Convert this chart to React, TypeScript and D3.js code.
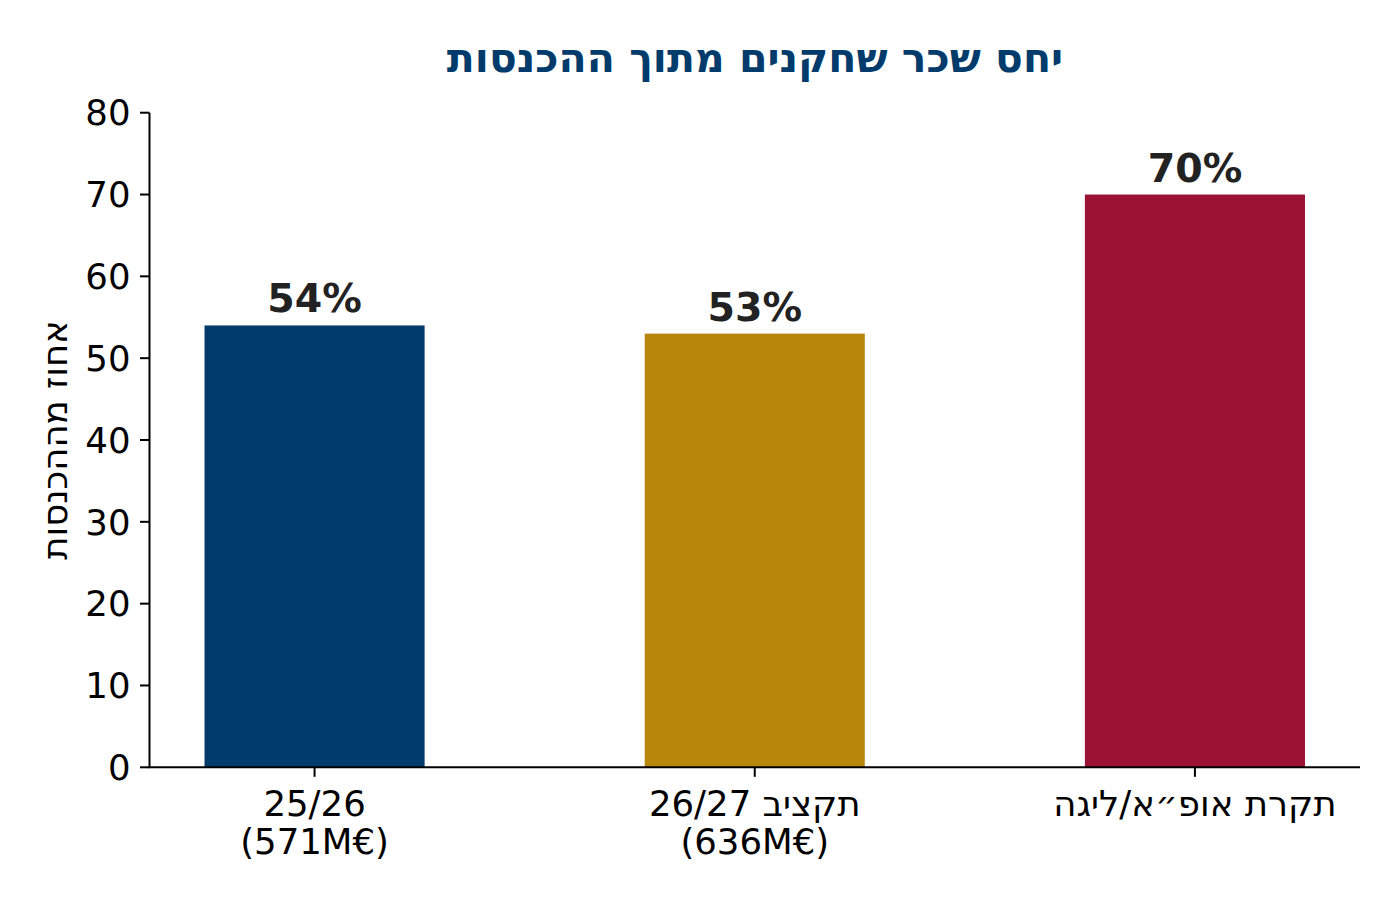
import React from 'react';
import * as d3 from 'd3';

// Données du graphique
const categories: string[][] = [
  ['25/26', '(571M€)'],
  ['תקציב 26/27', '(636M€)'],
  ['תקרת אופ״א/ליגה'],
];
const values: number[] = [54, 53, 70];
const barColors: string[] = ['#003B6B', '#B8860B', '#9B1235'];
const yTicks: number[] = [0, 10, 20, 30, 40, 50, 60, 70, 80];
const title = 'יחס שכר שחקנים מתוך ההכנסות';
const yLabel = 'אחוז מההכנסות';

const W = 1400;
const H = 900;
const FONT = '"DejaVu Sans", sans-serif';
const hebrew = /[\u0590-\u05FF]/;

const App: React.FC = () => {
  const plot = { left: 149.5, right: 1360, top: 112.7, bottom: 767.3 };

  const x = d3.scaleLinear().domain([-0.375, 2.375]).range([plot.left, plot.right]);
  const y = d3.scaleLinear().domain([0, 80]).range([plot.bottom, plot.top]);
  const barW = x(0.5) - x(0);

  return (
    <svg
      width={W}
      height={H}
      style={{ position: 'absolute', left: 0, top: 0, background: '#fff' }}
      fontFamily={FONT}
    >
      {/* Titre */}
      <text
        x={755}
        y={72}
        textAnchor="middle"
        direction="rtl"
        fontSize={41}
        fontWeight="bold"
        fill="#003B6B"
      >
        {title}
      </text>

      {/* Barres */}
      {values.map((v, i) => (
        <rect
          key={i}
          x={x(i) - barW / 2}
          y={y(v)}
          width={barW}
          height={y(0) - y(v)}
          fill={barColors[i]}
        />
      ))}

      {/* Étiquettes des valeurs */}
      {values.map((v, i) => (
        <text
          key={'l' + i}
          x={x(i)}
          y={y(v) - 13}
          textAnchor="middle"
          fontSize={39.5}
          fontWeight="bold"
          fill="#222"
        >
          {v}%
        </text>
      ))}

      {/* Axe Y */}
      <line x1={plot.left} x2={plot.left} y1={plot.top} y2={plot.bottom} stroke="#000" strokeWidth={2} />
      {yTicks.map((t) => (
        <g key={'y' + t}>
          <line x1={plot.left - 9.5} x2={plot.left} y1={y(t)} y2={y(t)} stroke="#000" strokeWidth={2} />
          <text
            x={plot.left - 19}
            y={y(t)}
            dy="0.36em"
            textAnchor="end"
            fontSize={35.5}
            fill="#000"
          >
            {t}
          </text>
        </g>
      ))}

      {/* Axe X */}
      <line x1={plot.left - 1} x2={plot.right} y1={plot.bottom} y2={plot.bottom} stroke="#000" strokeWidth={2} />
      {categories.map((lines, i) => (
        <g key={'x' + i}>
          <line x1={x(i)} x2={x(i)} y1={plot.bottom} y2={plot.bottom + 9.5} stroke="#000" strokeWidth={2} />
          {lines.map((s, j) => (
            <text
              key={j}
              x={x(i)}
              y={816 + j * 38}
              textAnchor="middle"
              direction={hebrew.test(s) ? 'rtl' : 'ltr'}
              fontSize={35.5}
              fill="#000"
            >
              {s}
            </text>
          ))}
        </g>
      ))}

      {/* Titre de l'axe Y */}
      <text
        transform={`translate(67,${(plot.top + plot.bottom) / 2}) rotate(-90)`}
        textAnchor="middle"
        direction="rtl"
        fontSize={35.5}
        fill="#000"
      >
        {yLabel}
      </text>
    </svg>
  );
};

export default App;
